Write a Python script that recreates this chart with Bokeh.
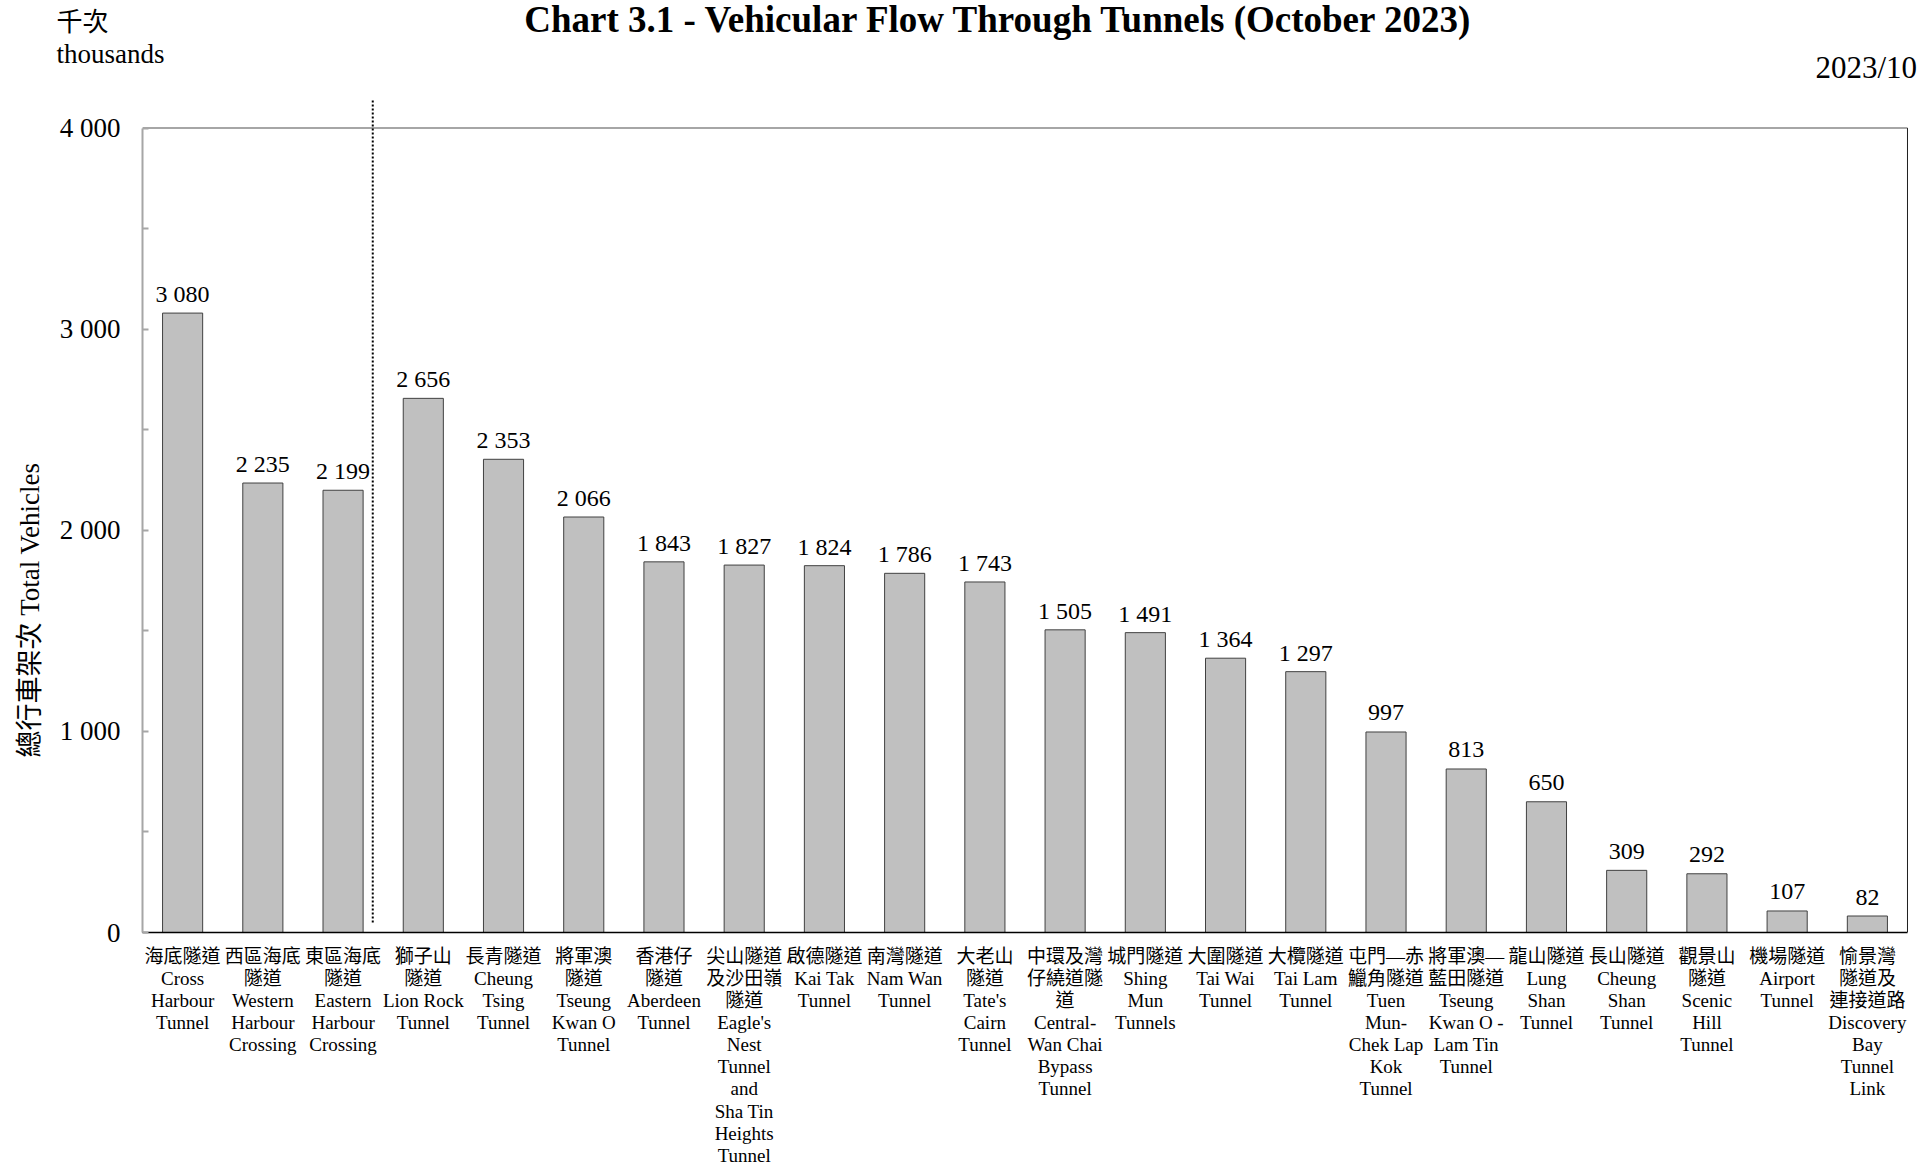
from bokeh.plotting import figure
from bokeh.models import ColumnDataSource, FixedTicker, Range1d, Title
from bokeh.core.properties import value
from bokeh.embed import file_html
from bokeh.resources import INLINE

# ---- data ----
tunnels_zh = ["海底隧道", "西區海底\n隧道", "東區海底\n隧道", "獅子山\n隧道", "長青隧道",
              "將軍澳\n隧道", "香港仔\n隧道", "尖山隧道\n及沙田嶺\n隧道", "啟德隧道", "南灣隧道",
              "大老山\n隧道", "中環及灣\n仔繞道隧\n道", "城門隧道", "大圍隧道", "大欖隧道",
              "屯門—赤\n鱲角隧道", "將軍澳—\n藍田隧道", "龍山隧道", "長山隧道", "觀景山\n隧道",
              "機場隧道", "愉景灣\n隧道及\n連接道路"]
tunnels_en = ["Cross\nHarbour\nTunnel", "Western\nHarbour\nCrossing", "Eastern\nHarbour\nCrossing",
              "Lion Rock\nTunnel", "Cheung\nTsing\nTunnel", "Tseung\nKwan O\nTunnel",
              "Aberdeen\nTunnel", "Eagle's\nNest\nTunnel\nand\nSha Tin\nHeights\nTunnel",
              "Kai Tak\nTunnel", "Nam Wan\nTunnel", "Tate's\nCairn\nTunnel",
              "Central-\nWan Chai\nBypass\nTunnel", "Shing\nMun\nTunnels", "Tai Wai\nTunnel",
              "Tai Lam\nTunnel", "Tuen\nMun-\nChek Lap\nKok\nTunnel", "Tseung\nKwan O -\nLam Tin\nTunnel",
              "Lung\nShan\nTunnel", "Cheung\nShan\nTunnel", "Scenic\nHill\nTunnel", "Airport\nTunnel",
              "Discovery\nBay\nTunnel\nLink"]
vehicles = [3080, 2235, 2199, 2656, 2353, 2066, 1843, 1827, 1824, 1786, 1743, 1505, 1491,
            1364, 1297, 997, 813, 650, 309, 292, 107, 82]
y_ticks = [0, 500, 1000, 1500, 2000, 2500, 3000, 3500, 4000]
y_tick_labels = ["0", "", "1 000", "", "2 000", "", "3 000", "", "4 000"]

TITLE = "Chart 3.1 - Vehicular Flow Through Tunnels (October 2023)"
UNIT_ZH = "千次"
UNIT_EN = "thousands"
PERIOD = "2023/10"
Y_TITLE = "總行車架次 Total Vehicles"

SERIF = "Liberation Serif, Noto Sans CJK TC"

n = len(vehicles)
xs = [i + 0.5 for i in range(n)]
val_labels = [f"{v:,}".replace(",", " ") for v in vehicles]
cat_labels = [zh + "\n" + en for zh, en in zip(tunnels_zh, tunnels_en)]

src = ColumnDataSource(dict(x=xs, top=vehicles, lab=val_labels))

p = figure(width=1921, height=1168, output_backend="svg", toolbar_location=None,
           x_range=Range1d(0, n + 0.05), y_range=Range1d(0, 4152),
           min_border_left=141, min_border_right=10, min_border_top=97, min_border_bottom=232)
p.outline_line_color = None
p.xgrid.grid_line_color = None
p.ygrid.grid_line_color = None

p.vbar(x="x", top="top", width=0.5, bottom=0, source=src,
       fill_color="#c0c0c0", line_color="#404040", line_width=1)

p.text(x="x", y="top", text="lab", source=src, text_align="center",
       text_baseline="middle", y_offset=-19,
       text_font=value("Liberation Serif"), text_font_size="24px", text_color="black")

# frame borders
p.segment(x0=[0], y0=[4000], x1=[n], y1=[4000], line_color="#a6a6a6", line_width=2)
p.segment(x0=[n], y0=[0], x1=[n], y1=[4000], line_color="#202020", line_width=1)
# divider between harbour crossings and other tunnels
DIVIDER_X = 2.87
p.segment(x0=[DIVIDER_X], y0=[50], x1=[DIVIDER_X], y1=[4142], line_color="black",
          line_width=2, line_dash="2 2")

# header texts (overlay level so they are drawn outside the frame)
p.text(x=[10.676], y=[4539], text=[TITLE], text_align="center", text_baseline="middle",
       text_font=value("Liberation Serif"), text_font_size="37px", text_font_style="bold",
       text_color="black", level="overlay")
p.text(x=[-1.071], y=[4524], text=[UNIT_ZH], text_align="left", text_baseline="middle",
       text_font=value(SERIF), text_font_size="26px", text_color="black", level="overlay")
p.text(x=[-1.071], y=[4368], text=[UNIT_EN], text_align="left", text_baseline="middle",
       text_font=value("Liberation Serif"), text_font_size="27px", text_color="black",
       level="overlay")
p.text(x=[22.12], y=[4300], text=[PERIOD], text_align="right", text_baseline="middle",
       text_font=value("Liberation Serif"), text_font_size="31px", text_color="black",
       level="overlay")

# y axis
ya = p.yaxis[0]
ya.ticker = FixedTicker(ticks=y_ticks)
ya.major_label_overrides = {float(t): l for t, l in zip(y_ticks, y_tick_labels)}
ya.bounds = (0, 4000)
ya.axis_line_color = "#a6a6a6"
ya.axis_line_width = 2
ya.major_tick_in = 6
ya.major_tick_out = 0
ya.major_tick_line_color = "#a6a6a6"
ya.major_tick_line_width = 2
ya.minor_tick_line_color = None
ya.major_label_text_font = "Liberation Serif"
ya.major_label_text_font_size = "27px"
ya.major_label_text_color = "black"
ya.major_label_standoff = 22

p.add_layout(Title(text=Y_TITLE, align="left", offset=175, standoff=24,
                   text_font=SERIF, text_font_size="27px", text_font_style="normal",
                   text_color="black"), "left")

# x axis
xa = p.xaxis[0]
xa.ticker = FixedTicker(ticks=xs)
xa.major_label_overrides = {float(x): l for x, l in zip(xs, cat_labels)}
xa.bounds = (0, n)
xa.axis_line_color = "black"
xa.axis_line_width = 1.5
xa.major_tick_line_color = None
xa.minor_tick_line_color = None
xa.major_tick_out = 0
xa.major_tick_in = 0
xa.major_label_text_font = SERIF
xa.major_label_text_font_size = "19px"
xa.major_label_text_color = "black"
xa.major_label_text_line_height = 1.055
xa.major_label_standoff = 13
xa.major_label_orientation = "horizontal"

open("out.html", "w").write(file_html(p, INLINE))
